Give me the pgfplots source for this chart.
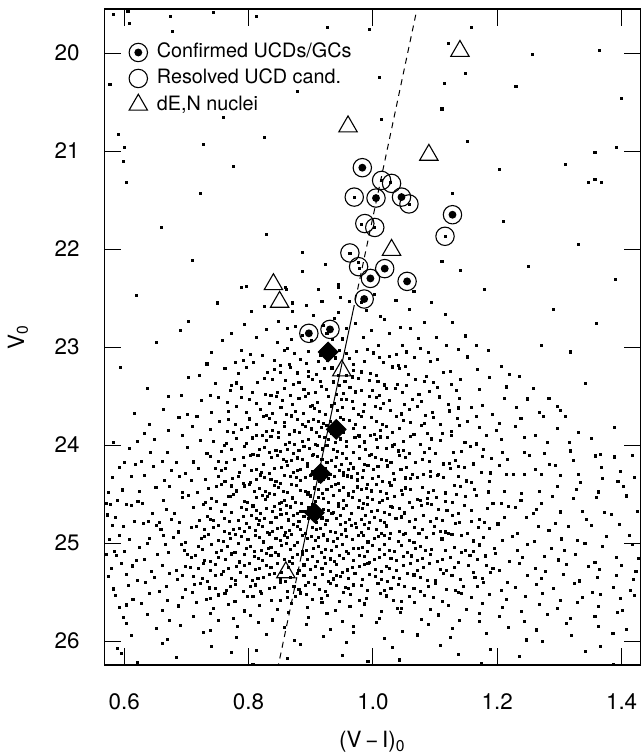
\documentclass[border=0pt]{standalone}
\usepackage{fontspec}
\setmainfont{TeX Gyre Heros}
\usepackage{pgfplots}
\pgfplotsset{compat=1.18}
\pgfdeclareplotmark{ucd}{%
  \pgfpathcircle{\pgfpointorigin}{\pgfplotmarksize}\pgfusepathqstroke
  \pgfpathcircle{\pgfpointorigin}{0.43\pgfplotmarksize}\pgfusepathqfill}
\begin{document}
\begin{tikzpicture}
\begin{axis}[
  scale only axis, width=268.35pt, height=328.25pt,
  xmin=0.5679, xmax=1.4305, ymin=19.551, ymax=26.245, y dir=reverse,
  xtick={0.6,0.8,1.0,1.2,1.4}, xticklabels={0.6,0.8,1.0,1.2,1.4},
  ytick={20,21,22,23,24,25,26}, yticklabels={20,21,22,23,24,25,26},
  xtick pos=both, ytick pos=both, xticklabel pos=lower, yticklabel pos=left,
  tick align=inside, major tick length=8.5pt,
  every tick/.style={black, line width=0.5pt},
  axis line style={line width=0.6pt},
  ticklabel style={font=\fontsize{11.2pt}{13pt}\selectfont},
  xticklabel style={anchor=center, yshift=-18.35pt},
  yticklabel style={anchor=east, inner sep=0pt, xshift=-12.15pt},
  every axis x label/.style={at={(axis description cs:0.5,0)}, yshift=-38.5pt, anchor=center, font=\fontsize{11.2pt}{13pt}\selectfont},
  every axis y label/.style={at={(axis description cs:0,0.5)}, xshift=-43.15pt, rotate=90, anchor=center, font=\fontsize{11.2pt}{13pt}\selectfont},
  xlabel={(V\,−\,I)\textsubscript{0}},
  ylabel={V\textsubscript{0}},
  legend style={draw=none, fill=none, at={(axis description cs:0,1)}, anchor=north west,
    xshift=12.45pt, yshift=-16.65pt, font=\fontsize{9.9pt}{11pt}\selectfont,
    row sep=2.8pt, column sep=4.2pt, inner sep=0pt, outer sep=0pt,
    nodes={inner sep=0.5pt, text height=7.2pt, text depth=2pt}},
  legend cell align=left,
  legend image code/.code={\draw[mark repeat=2,mark phase=2,#1] plot coordinates {(-0.1pt,0pt)(0pt,0pt)(0.1pt,0pt)};},
]
% field dots
\addplot[only marks, mark=square*, mark size=0.52pt, mark options={draw=none, fill=black}, forget plot] coordinates {
(0.582,19.61) (0.606,19.57) (0.609,19.70) (0.675,19.63) (0.678,19.78) (0.743,19.59) (0.813,19.63)
(0.577,20.32) (0.879,20.39) (0.759,20.66) (0.590,20.83) (0.728,20.93) (0.826,20.86) (0.601,20.96)
(0.598,21.11) (0.776,21.16) (0.604,21.32) (0.723,21.43) (0.927,19.74) (0.995,19.76) (1.159,19.74)
(1.122,19.90) (1.011,20.25) (1.149,20.21) (1.115,20.31) (1.230,20.34) (1.257,20.01) (1.365,19.97)
(1.399,20.46) (1.111,20.57) (1.014,20.68) (1.152,20.90) (1.357,21.01) (1.392,20.96) (1.204,21.19)
(1.310,21.14) (1.346,21.32) (1.357,21.29) (1.368,21.32) (1.128,21.43) (0.829,21.85) (0.886,22.03)
(1.111,22.13) (0.923,22.16) (0.887,22.23) (1.140,22.22) (0.789,22.39) (0.797,22.38) (0.860,22.39)
(0.944,22.36) (0.945,22.39) (0.871,22.55)
(1.21,21.72) (1.33,21.95) (1.25,22.18) (1.39,22.31) (1.18,22.41) (0.66,21.78) (0.71,22.12)
(0.62,22.47) (0.75,22.55) (1.29,22.62) (1.36,22.76) (0.69,22.83)
(1.014,21.30) (1.028,21.32) (0.970,21.47) (1.059,21.54) (0.981,21.75) (1.003,21.78) (1.116,21.87)
(0.963,22.04) (0.977,22.14) (0.979,22.20)
(0.594,23.21) (0.617,23.68) (0.652,22.95) (0.703,22.74) (1.271,22.98) (1.342,23.37) (1.389,23.82) (1.417,24.11) (0.583,23.97) (1.318,23.05) (0.638,23.42) (1.296,23.61)
(0.861,22.414) (0.912,22.415) (0.947,22.492) (1.003,22.465) (1.066,22.435)
(0.826,22.589) (0.893,22.579) (0.918,22.532) (0.962,22.538) (0.981,22.546) (1.037,22.526) (1.094,22.543)
(0.804,22.638) (0.871,22.632) (0.905,22.679) (0.944,22.650) (0.990,22.628) (1.012,22.684) (1.058,22.619) (1.117,22.671)
(0.793,22.769) (0.848,22.739) (0.876,22.793) (0.921,22.775) (0.938,22.710) (0.972,22.758) (1.019,22.720) (1.044,22.797) (1.083,22.749) (1.128,22.744)
(0.772,22.859) (0.829,22.823) (0.862,22.807) (0.887,22.881) (0.926,22.864) (0.957,22.806) (0.998,22.828) (1.027,22.862) (1.061,22.808) (1.102,22.899) (1.149,22.886)
(0.758,22.928) (0.812,22.903) (0.846,22.948) (0.869,22.925) (0.901,22.934) (0.935,22.921) (0.951,22.917) (0.984,22.906) (1.009,22.979) (1.048,22.982) (1.073,22.914) (1.118,22.980) (1.166,22.986)
(0.741,23.051) (0.788,23.032) (0.823,23.082) (0.857,23.030) (0.874,23.066) (0.897,23.047) (0.929,23.009) (0.946,23.038) (0.973,23.044) (1.001,23.060) (1.026,23.095) (1.054,23.050) (1.089,23.058) (1.137,23.022) (1.186,23.031)
(0.733,23.172) (0.779,23.153) (0.808,23.159) (0.842,23.140) (0.866,23.181) (0.884,23.128) (0.913,23.148) (0.940,23.111) (0.962,23.117) (0.987,23.145) (1.011,23.102) (1.041,23.184) (1.067,23.110) (1.104,23.127) (1.152,23.101) (1.207,23.193)
(0.721,23.285) (0.762,23.221) (0.797,23.210) (0.831,23.255) (0.851,23.259) (0.879,23.264) (0.896,23.246) (0.922,23.222) (0.944,23.294) (0.958,23.289) (0.981,23.254) (1.006,23.293) (1.032,23.203) (1.057,23.281) (1.086,23.296) (1.124,23.244) (1.168,23.228) (1.219,23.281)
(0.703,23.309) (0.746,23.375) (0.781,23.366) (0.814,23.359) (0.838,23.333) (0.859,23.344) (0.881,23.361) (0.903,23.328) (0.916,23.347) (0.937,23.356) (0.955,23.348) (0.976,23.323) (0.994,23.337) (1.018,23.386) (1.039,23.378) (1.069,23.331) (1.098,23.365) (1.141,23.327) (1.187,23.312) (1.236,23.301)
(0.692,23.490) (0.739,23.491) (0.771,23.445) (0.806,23.464) (0.827,23.485) (0.846,23.466) (0.868,23.492) (0.889,23.434) (0.908,23.460) (0.925,23.434) (0.941,23.486) (0.963,23.410) (0.982,23.445) (0.999,23.443) (1.021,23.426) (1.047,23.464) (1.074,23.482) (1.103,23.413) (1.134,23.439) (1.171,23.436) (1.214,23.407) (1.258,23.426)
(0.671,23.502) (0.724,23.549) (0.752,23.514) (0.789,23.512) (0.813,23.573) (0.834,23.572) (0.855,23.545) (0.871,23.587) (0.892,23.500) (0.911,23.566) (0.928,23.506) (0.949,23.531) (0.967,23.555) (0.986,23.588) (1.005,23.517) (1.027,23.548) (1.051,23.581) (1.078,23.552) (1.107,23.509) (1.139,23.520) (1.176,23.596) (1.211,23.528) (1.249,23.529) (1.283,23.525)
(0.663,23.640) (0.702,23.691) (0.741,23.671) (0.768,23.653) (0.796,23.664) (0.819,23.636) (0.838,23.678) (0.861,23.692) (0.876,23.659) (0.899,23.603) (0.914,23.660) (0.933,23.601) (0.951,23.613) (0.969,23.630) (0.985,23.653) (1.004,23.605) (1.028,23.648) (1.046,23.682) (1.071,23.604) (1.096,23.666) (1.123,23.652) (1.158,23.613) (1.192,23.684) (1.231,23.614) (1.268,23.669) (1.302,23.651)
(0.641,23.794) (0.688,23.715) (0.717,23.711) (0.753,23.760) (0.779,23.794) (0.801,23.733) (0.824,23.705) (0.843,23.772) (0.858,23.770) (0.879,23.736) (0.896,23.757) (0.913,23.759) (0.931,23.759) (0.947,23.719) (0.962,23.753) (0.981,23.709) (0.997,23.721) (1.016,23.786) (1.038,23.711) (1.061,23.773) (1.083,23.781) (1.109,23.793) (1.136,23.726) (1.167,23.711) (1.203,23.779) (1.238,23.731) (1.274,23.705) (1.309,23.711)
(0.632,23.885) (0.671,23.848) (0.709,23.807) (0.738,23.844) (0.766,23.862) (0.789,23.837) (0.812,23.899) (0.829,23.862) (0.848,23.874) (0.866,23.895) (0.882,23.867) (0.901,23.835) (0.917,23.818) (0.934,23.885) (0.952,23.875) (0.968,23.827) (0.986,23.824) (1.003,23.889) (1.021,23.812) (1.043,23.827) (1.066,23.893) (1.088,23.881) (1.112,23.883) (1.139,23.801) (1.171,23.819) (1.198,23.849) (1.229,23.812) (1.262,23.898) (1.297,23.833) (1.331,23.867)
(0.621,23.962) (0.648,23.944) (0.694,23.906) (0.722,23.956) (0.743,23.964) (0.781,23.930) (0.797,23.986) (0.822,23.902) (0.836,23.913) (0.859,23.994) (0.874,23.994) (0.886,23.963) (0.907,23.995) (0.922,23.922) (0.929,23.947) (0.948,23.937) (0.971,23.919) (0.978,23.907) (0.996,23.902) (1.012,23.917) (1.034,23.998) (1.049,23.960) (1.077,23.994) (1.094,23.937) (1.126,23.902) (1.148,23.977) (1.183,23.905) (1.207,23.939) (1.244,23.921) (1.281,23.971) (1.316,23.976) (1.352,23.929)
(0.608,24.031) (0.642,24.076) (0.669,24.075) (0.701,24.023) (0.733,24.084) (0.756,24.067) (0.772,24.048) (0.794,24.018) (0.818,24.046) (0.833,24.076) (0.851,24.069) (0.863,24.040) (0.881,24.051) (0.898,24.032) (0.911,24.000) (0.926,24.005) (0.943,24.068) (0.957,24.012) (0.969,24.071) (0.988,24.045) (1.007,24.026) (1.022,24.035) (1.041,24.060) (1.058,24.082) (1.083,24.077) (1.101,24.085) (1.129,24.077) (1.157,24.013) (1.178,24.042) (1.209,24.075) (1.243,24.077) (1.276,24.089) (1.318,24.060) (1.366,24.091)
(0.601,24.173) (0.627,24.163) (0.661,24.171) (0.684,24.178) (0.712,24.172) (0.739,24.114) (0.751,24.168) (0.777,24.144) (0.803,24.109) (0.815,24.101) (0.837,24.122) (0.856,24.149) (0.869,24.153) (0.887,24.143) (0.902,24.101) (0.918,24.146) (0.933,24.154) (0.949,24.195) (0.964,24.185) (0.979,24.137) (0.995,24.110) (1.013,24.150) (1.029,24.179) (1.052,24.122) (1.068,24.179) (1.091,24.168) (1.114,24.192) (1.133,24.158) (1.162,24.192) (1.191,24.135) (1.217,24.142) (1.252,24.101) (1.284,24.199) (1.323,24.156) (1.358,24.111) (1.389,24.121)
(0.592,24.229) (0.618,24.202) (0.647,24.219) (0.676,24.260) (0.698,24.286) (0.719,24.240) (0.747,24.234) (0.763,24.241) (0.786,24.281) (0.804,24.259) (0.821,24.281) (0.842,24.236) (0.853,24.229) (0.872,24.277) (0.884,24.247) (0.903,24.271) (0.917,24.230) (0.931,24.299) (0.946,24.260) (0.961,24.251) (0.975,24.287) (0.992,24.207) (1.008,24.221) (1.024,24.213) (1.045,24.249) (1.063,24.299) (1.081,24.299) (1.106,24.298) (1.124,24.237) (1.147,24.229) (1.175,24.278) (1.203,24.204) (1.226,24.299) (1.262,24.251) (1.293,24.205) (1.331,24.297) (1.367,24.231) (1.398,24.273)
(0.581,24.328) (0.612,24.316) (0.633,24.309) (0.664,24.363) (0.689,24.318) (0.708,24.359) (0.731,24.350) (0.752,24.324) (0.774,24.345) (0.791,24.394) (0.812,24.355) (0.826,24.334) (0.844,24.369) (0.858,24.308) (0.877,24.330) (0.891,24.326) (0.906,24.342) (0.921,24.352) (0.938,24.323) (0.952,24.308) (0.966,24.325) (0.983,24.333) (0.999,24.344) (1.016,24.368) (1.034,24.350) (1.053,24.335) (1.071,24.326) (1.092,24.319) (1.113,24.331) (1.138,24.318) (1.159,24.381) (1.187,24.371) (1.214,24.301) (1.243,24.300) (1.271,24.303) (1.302,24.313) (1.334,24.378) (1.369,24.338) (1.394,24.375) (1.421,24.328)
(0.574,24.486) (0.597,24.458) (0.624,24.475) (0.651,24.433) (0.672,24.420) (0.693,24.483) (0.718,24.481) (0.736,24.442) (0.757,24.406) (0.773,24.417) (0.794,24.417) (0.809,24.476) (0.827,24.469) (0.841,24.414) (0.856,24.473) (0.869,24.403) (0.884,24.459) (0.897,24.482) (0.912,24.453) (0.926,24.449) (0.939,24.404) (0.953,24.428) (0.968,24.475) (0.981,24.454) (0.997,24.468) (1.012,24.473) (1.029,24.411) (1.046,24.459) (1.061,24.456) (1.079,24.428) (1.098,24.463) (1.117,24.488) (1.141,24.423) (1.163,24.453) (1.186,24.478) (1.212,24.475) (1.239,24.493) (1.268,24.475) (1.297,24.419) (1.327,24.457) (1.362,24.478) (1.403,24.418)
(0.571,24.599) (0.589,24.562) (0.622,24.574) (0.629,24.595) (0.663,24.567) (0.694,24.535) (0.703,24.518) (0.731,24.585) (0.749,24.575) (0.768,24.527) (0.771,24.524) (0.798,24.589) (0.822,24.512) (0.831,24.527) (0.849,24.593) (0.853,24.581) (0.876,24.583) (0.894,24.501) (0.899,24.519) (0.921,24.549) (0.937,24.512) (0.944,24.598) (0.967,24.533) (0.979,24.567) (0.991,24.533) (1.016,24.562) (1.023,24.544) (1.048,24.506) (1.071,24.556) (1.076,24.564) (1.102,24.530) (1.128,24.586) (1.135,24.502) (1.166,24.513) (1.193,24.594) (1.207,24.594) (1.238,24.563) (1.271,24.595) (1.289,24.522) (1.322,24.547) (1.359,24.537) (1.408,24.519)
(0.578,24.607) (0.604,24.602) (0.611,24.617) (0.646,24.698) (0.668,24.660) (0.681,24.694) (0.712,24.637) (0.727,24.602) (0.756,24.677) (0.762,24.605) (0.789,24.639) (0.807,24.621) (0.813,24.671) (0.838,24.676) (0.842,24.629) (0.867,24.631) (0.883,24.676) (0.889,24.675) (0.908,24.623) (0.914,24.684) (0.929,24.667) (0.952,24.648) (0.958,24.618) (0.983,24.646) (0.998,24.676) (1.007,24.669) (1.031,24.640) (1.042,24.651) (1.063,24.632) (1.087,24.600) (1.094,24.605) (1.119,24.668) (1.147,24.612) (1.158,24.671) (1.184,24.645) (1.218,24.626) (1.229,24.635) (1.263,24.660) (1.301,24.682) (1.337,24.677) (1.373,24.685) (1.426,24.677)
(0.573,24.713) (0.586,24.742) (0.617,24.775) (0.639,24.777) (0.657,24.789) (0.676,24.760) (0.689,24.791) (0.721,24.773) (0.738,24.763) (0.744,24.771) (0.769,24.778) (0.783,24.772) (0.804,24.714) (0.818,24.768) (0.826,24.744) (0.852,24.709) (0.861,24.701) (0.872,24.722) (0.896,24.749) (0.903,24.753) (0.918,24.743) (0.934,24.701) (0.941,24.746) (0.962,24.754) (0.972,24.795) (0.994,24.785) (1.003,24.737) (1.026,24.710) (1.037,24.750) (1.059,24.779) (1.081,24.722) (1.093,24.779) (1.112,24.768) (1.139,24.792) (1.171,24.758) (1.179,24.792) (1.212,24.735) (1.247,24.742) (1.258,24.701) (1.294,24.799) (1.343,24.756) (1.384,24.711)
(0.581,24.821) (0.598,24.829) (0.631,24.802) (0.652,24.819) (0.659,24.860) (0.687,24.886) (0.708,24.840) (0.716,24.834) (0.743,24.841) (0.761,24.881) (0.776,24.859) (0.793,24.881) (0.801,24.836) (0.823,24.829) (0.839,24.877) (0.847,24.847) (0.866,24.871) (0.879,24.830) (0.891,24.899) (0.909,24.860) (0.916,24.851) (0.939,24.887) (0.948,24.807) (0.966,24.821) (0.987,24.813) (0.993,24.849) (1.014,24.899) (1.028,24.899) (1.052,24.898) (1.067,24.837) (1.099,24.829) (1.108,24.878) (1.133,24.804) (1.152,24.899) (1.188,24.851) (1.201,24.805) (1.233,24.897) (1.266,24.831) (1.283,24.873) (1.314,24.828) (1.352,24.816) (1.397,24.809)
(0.576,24.963) (0.593,24.918) (0.608,24.959) (0.641,24.950) (0.663,24.924) (0.679,24.945) (0.699,24.994) (0.724,24.955) (0.729,24.934) (0.752,24.969) (0.779,24.908) (0.788,24.930) (0.811,24.926) (0.817,24.942) (0.844,24.952) (0.858,24.923) (0.869,24.908) (0.886,24.925) (0.901,24.933) (0.913,24.944) (0.927,24.968) (0.943,24.950) (0.957,24.935) (0.977,24.926) (0.984,24.919) (1.009,24.931) (1.019,24.918) (1.041,24.981) (1.058,24.971) (1.074,24.901) (1.097,24.900) (1.121,24.903) (1.127,24.913) (1.161,24.978) (1.177,24.938) (1.209,24.975) (1.224,24.928) (1.259,24.986) (1.303,24.958) (1.329,24.975) (1.376,24.933) (1.412,24.920)
(0.584,25.083) (0.601,25.081) (0.625,25.042) (0.637,25.006) (0.667,25.017) (0.692,25.017) (0.697,25.076) (0.726,25.069) (0.741,25.014) (0.757,25.073) (0.784,25.003) (0.797,25.059) (0.809,25.082) (0.832,25.053) (0.836,25.049) (0.861,25.004) (0.874,25.028) (0.893,25.075) (0.904,25.054) (0.924,25.068) (0.933,25.073) (0.951,25.011) (0.969,25.059) (0.976,25.056) (0.999,25.028) (1.011,25.063) (1.034,25.088) (1.046,25.023) (1.069,25.053) (1.084,25.078) (1.116,25.075) (1.143,25.093) (1.149,25.075) (1.172,25.019) (1.196,25.057) (1.232,25.078) (1.249,25.018) (1.287,25.057) (1.308,25.078) (1.341,25.005) (1.369,25.032) (1.418,25.017)
(0.572,25.112) (0.588,25.126) (0.619,25.180) (0.632,25.166) (0.654,25.113) (0.671,25.100) (0.701,25.119) (0.714,25.127) (0.738,25.187) (0.763,25.166) (0.772,25.111) (0.794,25.119) (0.816,25.159) (0.828,25.109) (0.848,25.121) (0.857,25.164) (0.878,25.120) (0.887,25.119) (0.911,25.186) (0.922,25.142) (0.938,25.191) (0.953,25.153) (0.961,25.107) (0.986,25.138) (1.002,25.169) (1.018,25.114) (1.038,25.176) (1.062,25.131) (1.079,25.158) (1.104,25.190) (1.124,25.147) (1.156,25.122) (1.168,25.165) (1.197,25.103) (1.219,25.184) (1.241,25.151) (1.276,25.136) (1.298,25.172) (1.326,25.118) (1.357,25.195) (1.391,25.144) (1.427,25.161)
(0.579,25.257) (0.596,25.208) (0.613,25.233) (0.644,25.291) (0.661,25.224) (0.684,25.279) (0.706,25.246) (0.719,25.262) (0.747,25.215) (0.759,25.288) (0.781,25.237) (0.802,25.204) (0.811,25.271) (0.829,25.229) (0.853,25.296) (0.864,25.253) (0.871,25.210) (0.899,25.267) (0.907,25.241) (0.931,25.285) (0.942,25.222) (0.959,25.274) (0.978,25.239) (0.992,25.206) (1.013,25.293) (1.027,25.258) (1.049,25.227) (1.071,25.281) (1.091,25.212) (1.109,25.265) (1.131,25.248) (1.162,25.299) (1.183,25.231) (1.204,25.276) (1.236,25.203) (1.262,25.254) (1.278,25.287) (1.311,25.219) (1.347,25.242) (1.364,25.268) (1.399,25.225) (1.423,25.290)
(0.574,25.344) (0.603,25.317) (0.621,25.383) (0.649,25.352) (0.673,25.309) (0.686,25.371) (0.712,25.336) (0.734,25.395) (0.746,25.328) (0.773,25.363) (0.787,25.301) (0.806,25.379) (0.824,25.347) (0.841,25.314) (0.859,25.388) (0.868,25.355) (0.889,25.332) (0.897,25.397) (0.919,25.321) (0.936,25.366) (0.948,25.343) (0.971,25.308) (0.983,25.374) (1.004,25.339) (1.024,25.392) (1.043,25.357) (1.066,25.325) (1.087,25.381) (1.113,25.313) (1.141,25.369) (1.164,25.346) (1.189,25.304) (1.216,25.398) (1.248,25.333) (1.271,25.361) (1.306,25.319) (1.332,25.386) (1.361,25.352) (1.392,25.327) (1.419,25.375)
(0.582,25.468) (0.607,25.431) (0.634,25.405) (0.656,25.492) (0.668,25.447) (0.698,25.476) (0.723,25.413) (0.737,25.458) (0.764,25.484) (0.779,25.422) (0.803,25.439) (0.819,25.497) (0.834,25.461) (0.851,25.406) (0.873,25.445) (0.881,25.473) (0.906,25.418) (0.923,25.489) (0.941,25.434) (0.956,25.452) (0.968,25.427) (0.991,25.481) (1.008,25.409) (1.029,25.466) (1.051,25.442) (1.077,25.495) (1.101,25.415) (1.118,25.471) (1.146,25.438) (1.178,25.403) (1.207,25.487) (1.229,25.456) (1.263,25.424) (1.291,25.463) (1.324,25.411) (1.353,25.499) (1.387,25.448) (1.414,25.479)
(0.586,25.536) (0.614,25.572) (0.641,25.514) (0.669,25.588) (0.693,25.551) (0.709,25.503) (0.738,25.567) (0.751,25.529) (0.778,25.594) (0.798,25.545) (0.821,25.518) (0.837,25.581) (0.862,25.557) (0.883,25.509) (0.902,25.573) (0.927,25.538) (0.946,25.596) (0.964,25.522) (0.989,25.564) (1.012,25.511) (1.033,25.585) (1.058,25.547) (1.083,25.532) (1.112,25.599) (1.137,25.506) (1.159,25.559) (1.187,25.526) (1.214,25.578) (1.246,25.541) (1.272,25.513) (1.301,25.589) (1.337,25.554) (1.366,25.520) (1.398,25.567) (1.421,25.535) (0.875,25.548)
(0.592,25.653) (0.628,25.617) (0.661,25.684) (0.687,25.641) (0.716,25.606) (0.744,25.669) (0.767,25.628) (0.794,25.692) (0.818,25.635) (0.846,25.677) (0.869,25.612) (0.894,25.658) (0.918,25.604) (0.939,25.686) (0.963,25.643) (0.987,25.621) (1.014,25.695) (1.039,25.663) (1.067,25.609) (1.093,25.674) (1.122,25.638) (1.151,25.681) (1.176,25.616) (1.208,25.657) (1.239,25.699) (1.268,25.627) (1.297,25.666) (1.329,25.602) (1.362,25.648) (1.401,25.685) (0.603,25.631) (1.046,25.670)
(0.598,25.762) (0.637,25.728) (0.672,25.791) (0.711,25.747) (0.739,25.715) (0.776,25.773) (0.803,25.736) (0.838,25.784) (0.864,25.709) (0.897,25.758) (0.926,25.722) (0.951,25.795) (0.982,25.741) (1.011,25.767) (1.044,25.703) (1.078,25.779) (1.106,25.733) (1.139,25.786) (1.172,25.714) (1.204,25.752) (1.243,25.797) (1.281,25.725) (1.318,25.768) (1.357,25.744) (1.393,25.711) (0.751,25.788)
(0.604,25.819) (0.652,25.874) (0.691,25.838) (0.738,25.892) (0.782,25.855) (0.816,25.807) (0.857,25.863) (0.893,25.829) (0.931,25.881) (0.968,25.846) (1.006,25.812) (1.047,25.897) (1.089,25.834) (1.128,25.868) (1.171,25.803) (1.218,25.858) (1.263,25.886) (1.311,25.821) (1.362,25.849) (1.407,25.877)
(0.611,25.942) (0.669,25.987) (0.727,25.913) (0.781,25.966) (0.829,25.929) (0.874,25.994) (0.921,25.951) (0.969,25.908) (1.018,25.975) (1.071,25.937) (1.124,25.962) (1.183,25.919) (1.247,25.988) (1.319,25.945) (1.386,25.923)
(0.589,26.071) (0.662,26.024) (0.741,26.058) (0.812,26.093) (0.883,26.036) (0.957,26.012) (1.031,26.067) (1.108,26.045) (1.189,26.089) (1.272,26.008) (1.366,26.053)
(0.596,26.126) (0.684,26.163) (0.773,26.114) (0.862,26.181) (0.951,26.147) (1.043,26.192) (1.137,26.133) (1.236,26.158) (1.342,26.107)
(0.621,26.218) (0.807,26.235) (0.992,26.206) (1.174,26.229) (1.387,26.241)
(0.803,23.073) (0.862,23.018) (0.915,23.087) (0.958,23.061) (0.991,23.024) (1.038,23.079) (1.076,23.013)
(0.792,23.136) (0.851,23.192) (0.893,23.163) (0.927,23.134) (0.969,23.178) (1.017,23.158) (1.052,23.193) (1.093,23.142)
(0.784,23.268) (0.842,23.231) (0.868,23.207) (0.909,23.276) (0.934,23.213) (0.968,23.237) (0.996,23.271) (1.043,23.219) (1.113,23.262)
(0.772,23.391) (0.826,23.318) (0.872,23.384) (0.896,23.302) (0.946,23.394) (0.967,23.305) (1.008,23.353) (1.054,23.396) (1.083,23.349) (1.126,23.383)
(0.788,23.417) (0.836,23.498) (0.858,23.421) (0.897,23.477) (0.917,23.403) (0.952,23.471) (0.972,23.458) (1.011,23.497) (1.036,23.419) (1.091,23.452)
(0.766,23.563) (0.802,23.531) (0.845,23.506) (0.881,23.524) (0.902,23.591) (0.938,23.577) (0.958,23.538) (0.994,23.502) (1.017,23.571) (1.064,23.534) (1.121,23.583)
(0.781,23.608) (0.829,23.697) (0.852,23.617) (0.888,23.676) (0.906,23.629) (0.923,23.688) (0.943,23.642) (0.977,23.689) (1.012,23.626) (1.058,23.634) (1.084,23.697) (1.138,23.621)
(0.768,23.742) (0.812,23.788) (0.833,23.727) (0.869,23.703) (0.887,23.794) (0.905,23.738) (0.921,23.782) (0.953,23.737) (0.972,23.794) (1.005,23.763) (1.049,23.744) (1.097,23.716) (1.152,23.763)
(0.776,23.871) (0.798,23.819) (0.838,23.846) (0.857,23.808) (0.874,23.856) (0.891,23.811) (0.909,23.868) (0.926,23.803) (0.943,23.858) (0.977,23.898) (1.012,23.849) (1.032,23.871) (1.078,23.802) (1.126,23.858)
(0.764,23.981) (0.806,23.927) (0.829,23.955) (0.848,23.918) (0.866,23.977) (0.897,23.944) (0.914,23.912) (0.939,23.973) (0.958,23.959) (0.987,23.968) (1.006,23.941) (1.023,23.925) (1.061,23.913) (1.109,23.957) (1.166,23.988)
(0.761,24.002) (0.807,24.094) (0.826,24.027) (0.844,24.059) (0.872,24.086) (0.889,24.017) (0.904,24.093) (0.919,24.039) (0.936,24.041) (0.951,24.081) (0.978,24.015) (0.997,24.094) (1.032,24.009) (1.049,24.057) (1.091,24.033) (1.142,24.068)
(0.764,24.181) (0.791,24.126) (0.824,24.199) (0.847,24.107) (0.861,24.168) (0.878,24.131) (0.894,24.185) (0.911,24.116) (0.926,24.178) (0.941,24.128) (0.958,24.139) (0.986,24.193) (1.004,24.127) (1.021,24.159) (1.043,24.104) (1.079,24.149) (1.123,24.184) (1.176,24.119)
(0.756,24.263) (0.794,24.212) (0.812,24.244) (0.833,24.293) (0.863,24.207) (0.879,24.258) (0.895,24.216) (0.911,24.283) (0.924,24.241) (0.939,24.218) (0.953,24.275) (0.969,24.233) (0.984,24.262) (1.001,24.246) (1.033,24.288) (1.054,24.226) (1.092,24.266) (1.137,24.217) (1.189,24.284)
(0.762,24.373) (0.784,24.318) (0.803,24.382) (0.819,24.305) (0.836,24.346) (0.851,24.387) (0.867,24.319) (0.884,24.362) (0.899,24.309) (0.914,24.371) (0.929,24.337) (0.945,24.389) (0.959,24.315) (0.975,24.356) (0.991,24.397) (1.009,24.321) (1.027,24.384) (1.061,24.343) (1.104,24.312) (1.151,24.366)
(0.748,24.421) (0.781,24.468) (0.801,24.402) (0.818,24.441) (0.834,24.493) (0.848,24.432) (0.863,24.487) (0.877,24.416) (0.891,24.472) (0.906,24.437) (0.919,24.493) (0.933,24.418) (0.946,24.466) (0.961,24.491) (0.975,24.427) (0.989,24.446) (1.005,24.402) (1.021,24.494) (1.053,24.437) (1.089,24.481) (1.131,24.411)
(0.741,24.549) (0.776,24.508) (0.794,24.571) (0.812,24.536) (0.827,24.554) (0.842,24.507) (0.858,24.566) (0.871,24.539) (0.885,24.596) (0.907,24.571) (0.913,24.538) (0.928,24.589) (0.952,24.562) (0.961,24.513) (0.984,24.596) (0.999,24.557) (1.011,24.585) (1.034,24.521) (1.058,24.588) (1.087,24.548) (1.117,24.571) (1.149,24.524)
(0.738,24.648) (0.772,24.689) (0.796,24.654) (0.819,24.698) (0.829,24.644) (0.851,24.658) (0.861,24.612) (0.878,24.697) (0.896,24.641) (0.902,24.608) (0.921,24.652) (0.937,24.689) (0.944,24.621) (0.966,24.694) (0.977,24.636) (0.991,24.609) (1.018,24.689) (1.029,24.622) (1.051,24.692) (1.078,24.617) (1.106,24.652) (1.138,24.694)
(0.734,24.726) (0.761,24.752) (0.791,24.731) (0.797,24.796) (0.812,24.752) (0.836,24.785) (0.844,24.736) (0.864,24.764) (0.881,24.783) (0.889,24.727) (0.909,24.791) (0.926,24.768) (0.948,24.722) (0.956,24.786) (0.981,24.763) (0.988,24.717) (1.012,24.769) (1.019,24.793) (1.046,24.733) (1.068,24.762) (1.102,24.744) (1.128,24.718) (1.158,24.776)
(0.729,24.862) (0.752,24.818) (0.769,24.897) (0.786,24.853) (0.811,24.874) (0.816,24.811) (0.831,24.892) (0.853,24.839) (0.859,24.888) (0.872,24.813) (0.884,24.862) (0.902,24.842) (0.923,24.813) (0.931,24.879) (0.956,24.866) (0.974,24.838) (0.981,24.892) (1.006,24.864) (1.021,24.825) (1.043,24.878) (1.079,24.858) (1.116,24.886) (1.169,24.838)
(0.736,24.911) (0.759,24.986) (0.771,24.949) (0.799,24.962) (0.824,24.988) (0.833,24.907) (0.851,24.974) (0.863,24.939) (0.879,24.991) (0.894,24.956) (0.907,24.976) (0.921,24.917) (0.936,24.987) (0.949,24.909) (0.967,24.962) (0.992,24.988) (1.002,24.951) (1.027,24.949) (1.049,24.914) (1.066,24.993) (1.086,24.938) (1.111,24.958) (1.143,24.926)
(0.719,25.038) (0.748,25.096) (0.766,25.033) (0.778,25.091) (0.803,25.038) (0.821,25.071) (0.843,25.092) (0.853,25.026) (0.868,25.061) (0.886,25.089) (0.912,25.038) (0.917,25.097) (0.941,25.031) (0.958,25.089) (0.983,25.046) (0.991,25.081) (1.018,25.011) (1.027,25.074) (1.056,25.097) (1.076,25.034) (1.094,25.061) (1.131,25.043) (1.161,25.081)
(0.708,25.147) (0.729,25.173) (0.751,25.148) (0.786,25.192) (0.809,25.138) (0.823,25.177) (0.836,25.129) (0.866,25.189) (0.871,25.143) (0.894,25.163) (0.903,25.134) (0.931,25.162) (0.946,25.123) (0.969,25.176) (0.978,25.127) (0.994,25.194) (1.011,25.146) (1.029,25.157) (1.049,25.134) (1.071,25.173) (1.092,25.118) (1.112,25.163) (1.138,25.194) (1.181,25.131)
(0.698,25.238) (0.727,25.209) (0.739,25.283) (0.768,25.259) (0.794,25.226) (0.818,25.263) (0.836,25.248) (0.847,25.207) (0.881,25.276) (0.889,25.223) (0.918,25.254) (0.923,25.209) (0.951,25.296) (0.967,25.251) (0.986,25.219) (1.004,25.268) (1.021,25.236) (1.038,25.283) (1.061,25.205) (1.081,25.249) (1.118,25.278) (1.153,25.227) (1.193,25.262)
(0.694,25.329) (0.726,25.357) (0.756,25.316) (0.779,25.384) (0.797,25.338) (0.815,25.362) (0.833,25.321) (0.851,25.376) (0.879,25.312) (0.907,25.349) (0.928,25.387) (0.941,25.331) (0.961,25.359) (0.994,25.323) (1.013,25.371) (1.033,25.346) (1.055,25.308) (1.077,25.352) (1.101,25.378) (1.127,25.328) (1.176,25.357)
(0.713,25.419) (0.746,25.463) (0.771,25.438) (0.791,25.489) (0.811,25.427) (0.842,25.452) (0.862,25.493) (0.892,25.431) (0.914,25.477) (0.932,25.416) (0.961,25.459) (0.981,25.429) (1.018,25.486) (1.041,25.421) (1.066,25.463) (1.089,25.438) (1.133,25.482) (1.168,25.447)
(0.732,25.572) (0.762,25.514) (0.807,25.549) (0.851,25.586) (0.893,25.524) (0.917,25.561) (0.953,25.506) (0.978,25.588) (1.022,25.539) (1.046,25.594) (1.097,25.553) (1.142,25.517)
};
% fitted relation
\addplot[black, line width=0.5pt, dash pattern=on 3pt off 2.5pt, forget plot] coordinates {(1.0726,19.50) (0.9684,22.622)};
\addplot[black, line width=0.5pt, forget plot] coordinates {(0.9684,22.622) (0.8885,25.020)};
\addplot[black, line width=0.5pt, dash pattern=on 3pt off 2.5pt, forget plot] coordinates {(0.8885,25.020) (0.8462,26.30)};
% confirmed UCDs/GCs
\addplot[only marks, mark=ucd, mark size=4.6pt, mark options={black, line width=0.55pt}] coordinates {
(0.983,21.17) (1.005,21.48) (1.046,21.47) (1.128,21.65) (1.019,22.20) (0.996,22.30) (1.055,22.33) (0.986,22.51) (0.931,22.82) (0.897,22.86)
};
\addlegendentry{Confirmed UCDs/GCs}
% resolved UCD candidates
\addplot[only marks, mark=o, mark size=4.6pt, mark options={black, line width=0.55pt}] coordinates {
(1.014,21.30) (1.030,21.33) (0.970,21.47) (1.058,21.54) (0.987,21.74) (1.003,21.78) (1.116,21.87) (0.963,22.04) (0.977,22.18)
};
\addlegendentry{Resolved UCD cand.}
% dE,N nuclei
\addplot[only marks, mark=triangle, mark size=5.3pt, mark options={black, line width=0.55pt}] coordinates {
(1.140,19.98) (0.960,20.75) (1.090,21.04) (1.030,22.01) (0.840,22.36) (0.850,22.54) (0.950,23.24) (0.860,25.30)
};
\addlegendentry{dE,N nuclei}
% binned means
\addplot[only marks, mark=square*, mark size=3.5pt, mark options={black, rotate=45}, forget plot] coordinates {
(0.928,23.05) (0.941,23.84) (0.916,24.29) (0.906,24.69)
};
\end{axis}
\pgfresetboundingbox
\path (-52.15pt,-45.5pt) rectangle (268.35pt,332.75pt);
\end{tikzpicture}
\end{document}
